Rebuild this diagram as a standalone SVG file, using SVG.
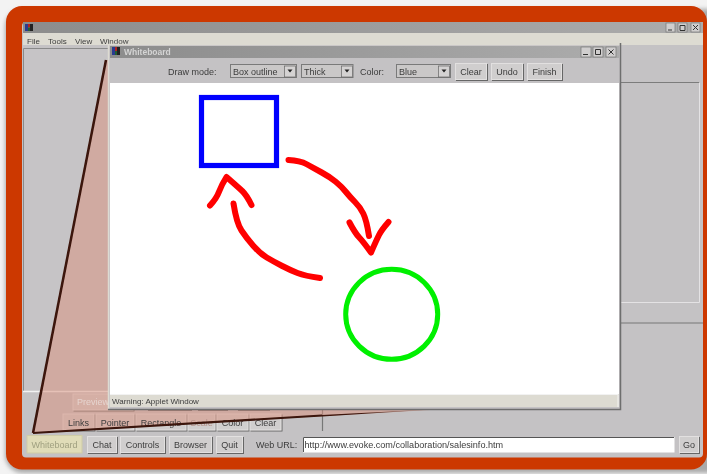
<svg xmlns="http://www.w3.org/2000/svg" width="707" height="474" viewBox="0 0 707 474">
<defs>
<linearGradient id="tb" x1="0" x2="1" y1="0" y2="0"><stop offset="0" stop-color="#8c8c8c"/><stop offset="1" stop-color="#acacac"/></linearGradient>
<linearGradient id="fade" gradientUnits="userSpaceOnUse" x1="33" y1="0" x2="440" y2="0"><stop offset="0" stop-color="#3a1208"/><stop offset="0.8" stop-color="#3a1208"/><stop offset="1" stop-color="#3a1208" stop-opacity="0"/></linearGradient>
<filter id="soft" x="0" y="0" width="100%" height="100%" filterUnits="objectBoundingBox"><feGaussianBlur stdDeviation="0.4"/></filter>
<filter id="sh" x="-10%" y="-10%" width="120%" height="130%"><feDropShadow dx="1" dy="1" stdDeviation="0.2" flood-color="#666"/></filter>
<filter id="outer" x="-5%" y="-5%" width="110%" height="110%"><feGaussianBlur stdDeviation="2"/></filter>
<style>
text{font-family:"Liberation Sans",Arial,sans-serif;font-size:9px;fill:#3c3c3c}
.btn{fill:#d0cece;stroke:#e2e0e0;stroke-width:1;filter:url(#sh)}
.sel{fill:#cac8c8;stroke:#7a7a7a;stroke-width:1}
.ar{fill:#d4d2d2;stroke:#666;stroke-width:.7}
.red{fill:none;stroke:#ff0000;stroke-width:6;stroke-linecap:round;stroke-linejoin:round}
.c{text-anchor:middle}
.wc{fill:#d0cece;stroke:#777;stroke-width:.7}
.g{fill:none;stroke:#333;stroke-width:1}
</style></defs>
<rect width="707" height="474" fill="#f3f3f3"/>
<rect x="5" y="9" width="720" height="464" rx="18" fill="#aaa" filter="url(#outer)"/>
<g filter="url(#soft)">
<rect x="6" y="6" width="701" height="463.500" rx="16" fill="#cc3700"/>
<rect x="22" y="22" width="681" height="435.500" rx="4" fill="#c4c2c4"/>
<rect x="23" y="22" width="680" height="11" fill="url(#tb)"/>
<rect x="23" y="33" width="680" height="12" fill="#dddbd2"/>
<g id="main-titlebar">
<rect x="25" y="24" width="3" height="7" fill="#2a3a90"/><rect x="28" y="24" width="2" height="3.500" fill="#b02020"/><rect x="28" y="27.500" width="2" height="3.500" fill="#206030"/><rect x="30" y="24" width="3" height="7" fill="#222"/>
<rect x="666" y="23" width="9" height="9" class="wc"/><rect x="678" y="23" width="9" height="9" class="wc"/><rect x="691" y="23" width="9" height="9" class="wc"/>
<path class="g" d="M668 30h4M680 25.500h5v5h-5zM693 25l5 5M698 25l-5 5"/></g>
<g id="menubar"><text x="27" y="44" style="font-size:8px">File</text><text x="48" y="44" style="font-size:8px">Tools</text><text x="75" y="44" style="font-size:8px">View</text><text x="100" y="44" style="font-size:8px">Window</text></g>
<rect x="23.500" y="48.500" width="84" height="343" fill="#c6c4c6"/>
<path d="M23.500 391V48.500H108" fill="none" stroke="#8a8a8a"/>
<path d="M23 391.500H108" stroke="#f2f2f2" stroke-width="1.500"/>
<path d="M621 82.500H699" stroke="#7c7c7c"/>
<path d="M699.500 83V302.500H621" fill="none" stroke="#e4e2e4"/>
<path d="M621 323H703" stroke="#777" stroke-width="1.200"/>
<g id="lower-buttons">
<rect x="73" y="394" width="60" height="16" class="btn"/>
<path d="M148 410.500h44M198 410.500h30M238 410.500h32" stroke="#666"/>
<rect x="63" y="414" width="31" height="16" class="btn"/>
<rect x="96" y="414" width="38" height="16" class="btn"/>
<rect x="136" y="414" width="50" height="16" class="btn"/>
<rect x="188" y="414" width="27" height="16" class="btn"/>
<rect x="217" y="414" width="31" height="16" class="btn"/>
<rect x="250" y="414" width="31" height="16" class="btn"/>
<path d="M322.500 410V431" stroke="#777" stroke-width="1.200"/>
</g>
<polygon points="107,60 33,433 430,410 620,405 620,60" fill="#da907c" fill-opacity="0.5"/>
<g id="lower-labels">
<text x="77" y="405" style="fill:#e6d4cf">Preview</text>
<text x="78.500" y="425.500" class="c">Links</text>
<text x="115" y="425.500" class="c">Pointer</text>
<text x="161" y="425.500" class="c">Rectangle</text>
<text x="201.500" y="425.500" class="c" style="fill:#b59088">Scale</text>
<text x="232.500" y="425.500" class="c">Color</text>
<text x="265.500" y="425.500" class="c">Clear</text>
</g>
<g id="connectors"><path d="M322 415L440 409L322 416.500Z" fill="url(#fade)"/><path d="M106 60L33 433" stroke="#3a1208" stroke-width="2.500" fill="none"/><path d="M33 433L322 415.500" stroke="#3a1208" stroke-width="2.200" fill="none"/></g>
<g id="bottom-bar">
<rect x="27" y="435.500" width="55" height="17.500" fill="#e0dcb8" stroke="#cfcca6"/><text x="54.500" y="448" class="c" style="fill:#a0a080">Whiteboard</text>
<rect x="87.500" y="436.500" width="29" height="16" class="btn"/><text x="102" y="448" class="c">Chat</text>
<rect x="120.500" y="436.500" width="44" height="16" class="btn"/><text x="142.500" y="448" class="c">Controls</text>
<rect x="169.500" y="436.500" width="42" height="16" class="btn"/><text x="190.500" y="448" class="c">Browser</text>
<rect x="216.500" y="436.500" width="26" height="16" class="btn"/><text x="229.500" y="448" class="c">Quit</text>
<text x="256" y="448">Web URL:</text>
<rect x="303" y="437" width="371.500" height="15.500" fill="#fff"/><path d="M303.500 452V437.500H674" fill="none" stroke="#555"/><text x="304.500" y="448" style="font-size:9.100px">http://www.evoke.com/collaboration/salesinfo.htm</text>
<rect x="679.500" y="436.500" width="19" height="16" class="btn"/><text x="689" y="448" class="c">Go</text>
</g>
<g id="whiteboard-window">
<rect x="108.500" y="44.500" width="512" height="365" fill="#c4c2c4"/>
<path d="M108.500 409V44.500" stroke="#dddbd2" stroke-width="1.500" fill="none"/><path d="M108 44.500H620" stroke="#dddbd2" stroke-width="1.500"/>
<path d="M620.500 43V409.500H108" stroke="#6e6e6e" stroke-width="1.500" fill="none"/>
<rect x="110" y="46" width="509" height="12" fill="url(#tb)"/>
<rect x="112" y="47" width="3" height="8" fill="#2a3a90"/><rect x="115" y="47" width="2" height="4" fill="#b02020"/><rect x="115" y="51" width="2" height="4" fill="#206030"/><rect x="117" y="47" width="3" height="8" fill="#222"/>
<text x="124" y="55" style="fill:#d4d4d4;font-weight:bold;font-size:8.500px">Whiteboard</text>
<rect x="581" y="47" width="10" height="10" class="wc"/><rect x="593" y="47" width="10" height="10" class="wc"/><rect x="606" y="47" width="10" height="10" class="wc"/>
<path class="g" d="M583 54.500h5M595.500 49.500h5v5h-5zM608.500 49.500l5 5M613.500 49.500l-5 5"/>
<text x="168" y="75">Draw mode:</text>
<rect x="230.500" y="64.500" width="66" height="13" class="sel"/><text x="233" y="75">Box outline</text><rect x="284.500" y="66" width="11" height="11" class="ar"/><path d="M287.500 69.500h5l-2.500 3z" fill="#222"/>
<rect x="301.500" y="64.500" width="51.500" height="13" class="sel"/><text x="304" y="75">Thick</text><rect x="341.500" y="66" width="11" height="11" class="ar"/><path d="M344.500 69.500h5l-2.500 3z" fill="#222"/>
<text x="360" y="75">Color:</text>
<rect x="396.500" y="64.500" width="54" height="13" class="sel"/><text x="399" y="75">Blue</text><rect x="438.500" y="66" width="11" height="11" class="ar"/><path d="M441.500 69.500h5l-2.500 3z" fill="#222"/>
<rect x="455.500" y="63.500" width="31" height="16" class="btn"/><text x="471" y="75" class="c">Clear</text>
<rect x="491.500" y="63.500" width="31" height="16" class="btn"/><text x="507" y="75" class="c">Undo</text>
<rect x="527.500" y="63.500" width="34" height="16" class="btn"/><text x="544.500" y="75" class="c">Finish</text>
<rect x="110" y="83" width="509" height="311" fill="#fff"/>
<rect x="110" y="394" width="509" height="13" fill="#dddbd2"/>
<path d="M110 394.500H618V407" fill="none" stroke="#f2f2f2"/>
<text x="112" y="404" style="font-size:8px">Warning: Applet Window</text>
</g>
<g id="blue-square"><rect x="201.500" y="97.500" width="75" height="68" fill="none" stroke="#0000ff" stroke-width="5.200"/></g>
<g id="green-circle"><ellipse cx="391.700" cy="314.300" rx="46" ry="45" fill="none" stroke="#00f000" stroke-width="5"/></g>
<g id="red-arrow-1"><path class="red" d="M288.500 160Q300 160.500 306.750 164.250Q313.500 168 321.750 172.500Q330 177 335.750 181.750Q341.500 186.500 345.750 191.750Q350 197 355 202Q360 207 363.250 213.500Q366.500 220 369 236"/><path class="red" d="M349.500 222.500Q355 233 359.250 237.500Q363.500 242 371 252.500Q376.500 240 379 235Q381.500 230 388.500 222"/></g>
<g id="red-arrow-2"><path class="red" d="M320 278Q305 276 297.500 273Q290 270 281.750 265.750Q273.500 261.500 266.750 257.500Q260 253.500 253.250 245.750Q246.500 238 241.500 230.500Q236.500 223 233.500 203.500"/><path class="red" d="M210 205.500Q216.500 198.500 219 191.750Q221.500 185 226.500 177Q238 187 242.250 191Q246.500 195 251.500 205"/></g>
</g>
</svg>
